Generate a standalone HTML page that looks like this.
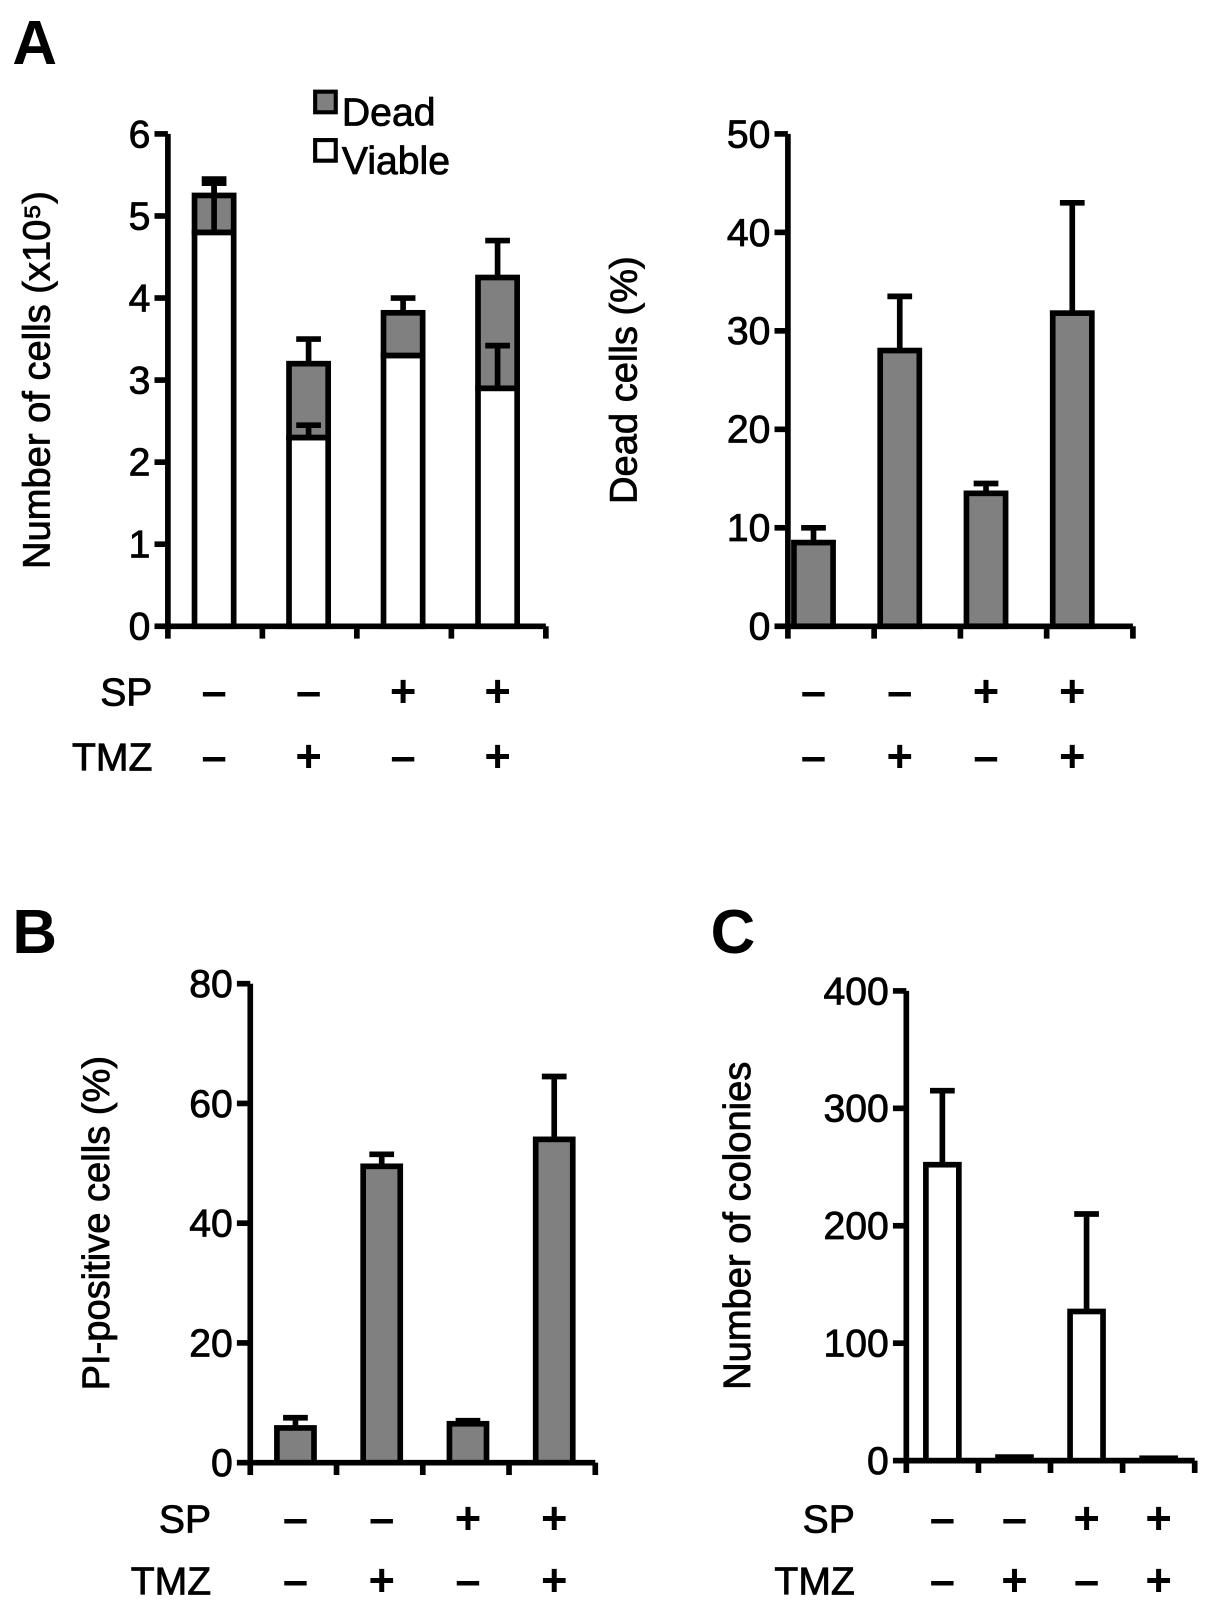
<!DOCTYPE html>
<html><head><meta charset="utf-8">
<style>
body{margin:0;background:#fff;}
svg{display:block;font-family:"Liberation Sans",Arial,sans-serif;}
</style></head>
<body>
<svg id="fig" width="1205" height="1611" viewBox="0 0 1170 1564" preserveAspectRatio="none" xmlns="http://www.w3.org/2000/svg"></svg>
<script>
// Panel A left: stacked cells
const aCats = ["1","2","3","4"];
const aViable = [4.8, 2.3, 3.3, 2.9];
const aTotal = [5.25, 3.2, 3.82, 4.25];
const aTotalErr = [5.45, 3.5, 4.0, 4.7];
const aViableErr = [5.4, 2.45, 3.3, 3.42];
const aTicks = [0,1,2,3,4,5,6];
// Panel A right: dead cells %
const dVals = [8.5, 28, 13.5, 31.8];
const dErr = [10, 33.5, 14.5, 43];
const dTicks = [0,10,20,30,40,50];
// Panel B: PI-positive
const bVals = [5.8, 49.5, 6.5, 54];
const bErr = [7.5, 51.5, 7, 64.5];
const bTicks = [0,20,40,60,80];
// Panel C: colonies
const cVals = [252, 3, 127, 2];
const cErr = [315, 3, 210, 2];
const cTicks = [0,100,200,300,400];
const spSigns = ["–","–","+","+"];
const tmzSigns = ["–","+","–","+"];

const NS="http://www.w3.org/2000/svg";
const svg=document.getElementById('fig');
function mk(tag,attrs,parent){const e=document.createElementNS(NS,tag);for(const k in attrs)e.setAttribute(k,attrs[k]);(parent||svg).appendChild(e);return e;}
function txt(s,attrs){const e=mk('text',attrs);e.textContent=s;return e;}
const TS={fill:'#000',stroke:'#000','stroke-width':0.8};
function T(s,a){return txt(s,Object.assign({},TS,a));}

function panel(cfg){
  const g=mk('g',{});
  
  
  const y=v=>cfg.y0-(v-cfg.min)/(cfg.max-cfg.min)*(cfg.y0-cfg.yTop);
  const SW=5.5;
  const ax=mk('line',{x1:cfg.ax,y1:cfg.yTop,x2:cfg.ax,y2:cfg.y0,stroke:'#000','stroke-width':SW},g);
  
  
  cfg.ticks.forEach(t=>{
    mk('line',{x1:cfg.ax-13,y1:y(t),x2:cfg.ax,y2:y(t),stroke:'#000','stroke-width':SW},g);
    const l=T(String(t),{x:cfg.ax-17,y:y(t)+13,'font-size':38,'text-anchor':'end'});
    
    
  });
  const xa=mk('line',{x1:cfg.ax-2,y1:cfg.y0,x2:cfg.xEnd,y2:cfg.y0,stroke:'#000','stroke-width':SW},g);
  
  
  const step=(cfg.xEnd-cfg.ax)/4;
  for(let i=0;i<=4;i++){mk('line',{x1:cfg.ax+i*step,y1:cfg.y0,x2:cfg.ax+i*step,y2:cfg.y0+12,stroke:'#000','stroke-width':SW},g);}
  const cx=i=>cfg.ax+step*(i+0.5)+(cfg.off||0);
  const bw=cfg.bw;
  cfg.series.forEach((s,i)=>{
    if(s.err!==undefined && s.err>s.top){
      mk('line',{x1:cx(i),y1:y(s.err),x2:cx(i),y2:y(s.top),stroke:'#000','stroke-width':SW},g);
      mk('line',{x1:cx(i)-12,y1:y(s.err),x2:cx(i)+12,y2:y(s.err),stroke:'#000','stroke-width':SW},g);
    }
    s.segs.forEach(sg=>{
      const r=mk('rect',{x:cx(i)-bw/2,y:y(sg.hi),width:bw,height:Math.max(y(sg.lo)-y(sg.hi),1),fill:sg.fill,stroke:'#000','stroke-width':SW},g);
      
      
    });
    if(s.err2!==undefined){
      mk('line',{x1:cx(i),y1:y(s.err2),x2:cx(i),y2:y(s.mid),stroke:'#000','stroke-width':SW},g);
      mk('line',{x1:cx(i)-12,y1:y(s.err2),x2:cx(i)+12,y2:y(s.err2),stroke:'#000','stroke-width':SW},g);
    }
  });
  if(cfg.rowLabels){
    const a=T('SP',{x:cfg.labX,y:cfg.spY+13,'font-size':38,'text-anchor':'end'});
    
    const b=T('TMZ',{x:cfg.labX,y:cfg.tmzY+13,'font-size':38,'text-anchor':'end'});
    
  }
  spSigns.forEach((s,i)=>{
    const t=txt(s,{x:cx(i),y:cfg.spY+14,'font-size':44,'font-weight':'bold','text-anchor':'middle',fill:'#000'});
    
  });
  tmzSigns.forEach((s,i)=>{
    const t=txt(s,{x:cx(i),y:cfg.tmzY+14,'font-size':44,'font-weight':'bold','text-anchor':'middle',fill:'#000'});
    
  });
  const cy=cfg.titleY||(cfg.yTop+cfg.y0)/2;
  const tt=T(cfg.title,{x:cfg.titleX,y:cy,'font-size':37,'text-anchor':'middle',transform:`rotate(-90 ${cfg.titleX} ${cy})`});
  
  
}

const G='#808080';
panel({name:'cell-number-chart',ax:163,y0:608,yTop:130,min:0,max:6,ticks:aTicks,xEnd:530,bw:38,off:-1,
  series:aCats.map((c,i)=>({top:aTotal[i],err:aTotalErr[i],mid:aViable[i],err2:aViableErr[i]>aViable[i]?aViableErr[i]:undefined,
    segs:[{lo:0,hi:aViable[i],fill:'#fff',kind:'viable'},{lo:aViable[i],hi:aTotal[i],fill:G,kind:'dead'}]})),
  rowLabels:true,labX:148,spY:672,tmzY:735,title:'Number of cells (x10⁵)',titleX:48});
panel({name:'dead-cells-chart',ax:765,y0:608,yTop:130,min:0,max:50,ticks:dTicks,xEnd:1100,bw:38,off:-17,
  series:dVals.map((v,i)=>({top:v,err:dErr[i],segs:[{lo:0,hi:v,fill:G,kind:'dead'}]})),
  rowLabels:false,spY:672,tmzY:735,title:'Dead cells (%)',titleX:618});
panel({name:'pi-positive-chart',ax:243,y0:1420,yTop:955,min:0,max:80,ticks:bTicks,xEnd:578,bw:36,off:2,
  series:bVals.map((v,i)=>({top:v,err:bErr[i],segs:[{lo:0,hi:v,fill:G,kind:'pi'}]})),
  rowLabels:true,labX:205,spY:1475,tmzY:1535,title:'PI-positive cells (%)',titleX:106});
panel({name:'colonies-chart',ax:880,y0:1418,yTop:962,min:0,max:400,ticks:cTicks,xEnd:1160,bw:32,off:0,
  series:cVals.map((v,i)=>({top:v,err:cErr[i],segs:[{lo:0,hi:v,fill:'#fff',kind:'colonies'}]})),
  rowLabels:true,labX:830,spY:1475,tmzY:1535,title:'Number of colonies',titleX:728});

[['A',12,62],['B',12,925],['C',690,925]].forEach(p=>{
  const t=txt(p[0],{x:p[1],y:p[2],'font-size':60,'font-weight':'bold',fill:'#000'});
  
  
});
const lg=mk('g',{});


const l1=mk('rect',{x:306,y:89,width:20,height:20,fill:G,stroke:'#000','stroke-width':4},lg);

const l2=mk('rect',{x:306,y:136,width:20,height:20,fill:'#fff',stroke:'#000','stroke-width':4},lg);

const t1=T('Dead',{x:332,y:122,'font-size':38});

const t2=T('Viable',{x:332,y:169,'font-size':38});

</script>
</body></html>
